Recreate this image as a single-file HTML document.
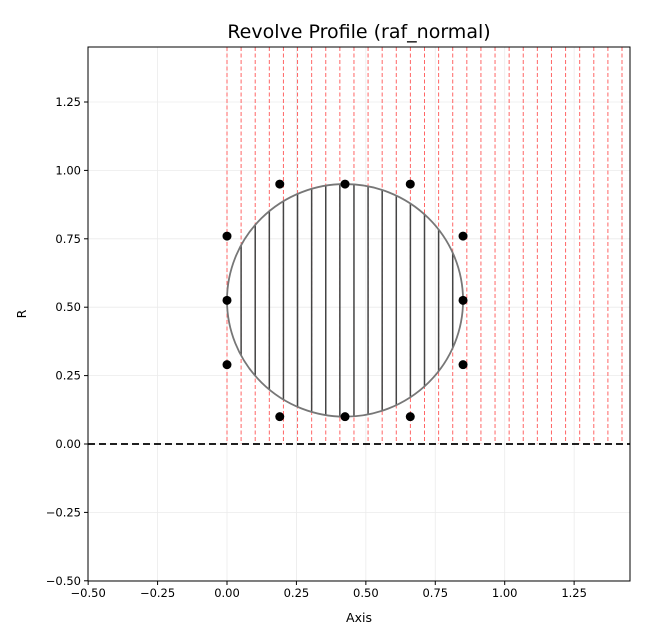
<!DOCTYPE html>
<html><head><meta charset="utf-8"><style>
body{margin:0;background:#fff}
text{font-family:"DejaVu Sans","Liberation Sans",sans-serif}
</style></head><body>
<svg id="chart" width="659" height="634" xmlns="http://www.w3.org/2000/svg">
<rect width="659" height="634" fill="#fff"/>
<text x="359" y="38" font-size="19" text-anchor="middle">Revolve Profile (raf_normal)</text>
<g id="grid"></g><g id="marks"></g><g id="axes"></g>
</svg>
<script>
const xTicks=[-0.5,-0.25,0,0.25,0.5,0.75,1.0,1.25];
const yTicks=[-0.5,-0.25,0,0.25,0.5,0.75,1.0,1.25];
const tickLabels=["−0.50","−0.25","0.00","0.25","0.50","0.75","1.00","1.25"];
const ptX=[0,0,0,0.19,0.425,0.66,0.85,0.85,0.85,0.66,0.425,0.19];
const ptY=[0.29,0.525,0.76,0.95,0.95,0.95,0.76,0.525,0.29,0.1,0.1,0.1];
const circle=[0.425,0.525,0.425];
const sliceCount=29, sliceStep=0.0508;
const X0=88,X1=630,Y0=47,Y1=581;
const xs=v=>227+v*277.7, ys=v=>444-v*273.6;
const NS="http://www.w3.org/2000/svg";
function mk(t,a,p){const e=document.createElementNS(NS,t);for(const k in a)e.setAttribute(k,a[k]);p.appendChild(e);return e;}
const g=document.getElementById('grid'),m=document.getElementById('marks'),ax=document.getElementById('axes');
xTicks.forEach((v,i)=>{const l=mk('line',{x1:xs(v),x2:xs(v),y1:Y0,y2:Y1,stroke:'#ebebeb','stroke-width':0.8},g);
});
yTicks.forEach((v,i)=>{const l=mk('line',{x1:X0,x2:X1,y1:ys(v),y2:ys(v),stroke:'#ebebeb','stroke-width':0.8},g);
});
const [cx,cy,r]=circle;
for(let i=0;i<sliceCount;i++){const x=i*sliceStep;
const l=mk('line',{x1:xs(x),x2:xs(x),y1:Y0,y2:ys(0),stroke:'#ff6666','stroke-width':1,'stroke-dasharray':'4,2.5'},m);

const d=x-cx; if(Math.abs(d)<r){const h=Math.sqrt(r*r-d*d);
const c=mk('line',{x1:xs(x),x2:xs(x),y1:ys(cy+h),y2:ys(cy-h),stroke:'#444','stroke-width':1.5},m);
}}
const ci=mk('ellipse',{cx:xs(cx),cy:ys(cy),rx:r*277.7,ry:r*273.6,fill:'none',stroke:'#777','stroke-width':1.8},m);

const axl=mk('line',{x1:X0,x2:X1,y1:ys(0),y2:ys(0),stroke:'#000','stroke-width':1.8,'stroke-dasharray':'7,4'},m);

ptX.forEach((x,i)=>{const p=mk('circle',{cx:xs(x),cy:ys(ptY[i]),r:4.5,fill:'#000'},m);
});
const fr=mk('rect',{x:X0,y:Y0,width:X1-X0,height:Y1-Y0,fill:'none',stroke:'#000','stroke-width':1},ax);

xTicks.forEach((v,i)=>{mk('line',{x1:xs(v),x2:xs(v),y1:Y1,y2:Y1+4,stroke:'#000'},ax);
const t=mk('text',{x:xs(v),y:Y1+16,'font-size':11.5,'text-anchor':'middle'},ax);t.textContent=tickLabels[i];
});
yTicks.forEach((v,i)=>{mk('line',{x1:X0-4,x2:X0,y1:ys(v),y2:ys(v),stroke:'#000'},ax);
const t=mk('text',{x:X0-7,y:ys(v)+4,'font-size':11.5,'text-anchor':'end'},ax);t.textContent=tickLabels[i];
});
const xl=mk('text',{x:359,y:622,'font-size':12.5,'text-anchor':'middle'},ax);xl.textContent='Axis';

const yl=mk('text',{x:26,y:314,'font-size':12.5,'text-anchor':'middle',transform:'rotate(-90 26 314)'},ax);yl.textContent='R';

</script>
</body></html>
